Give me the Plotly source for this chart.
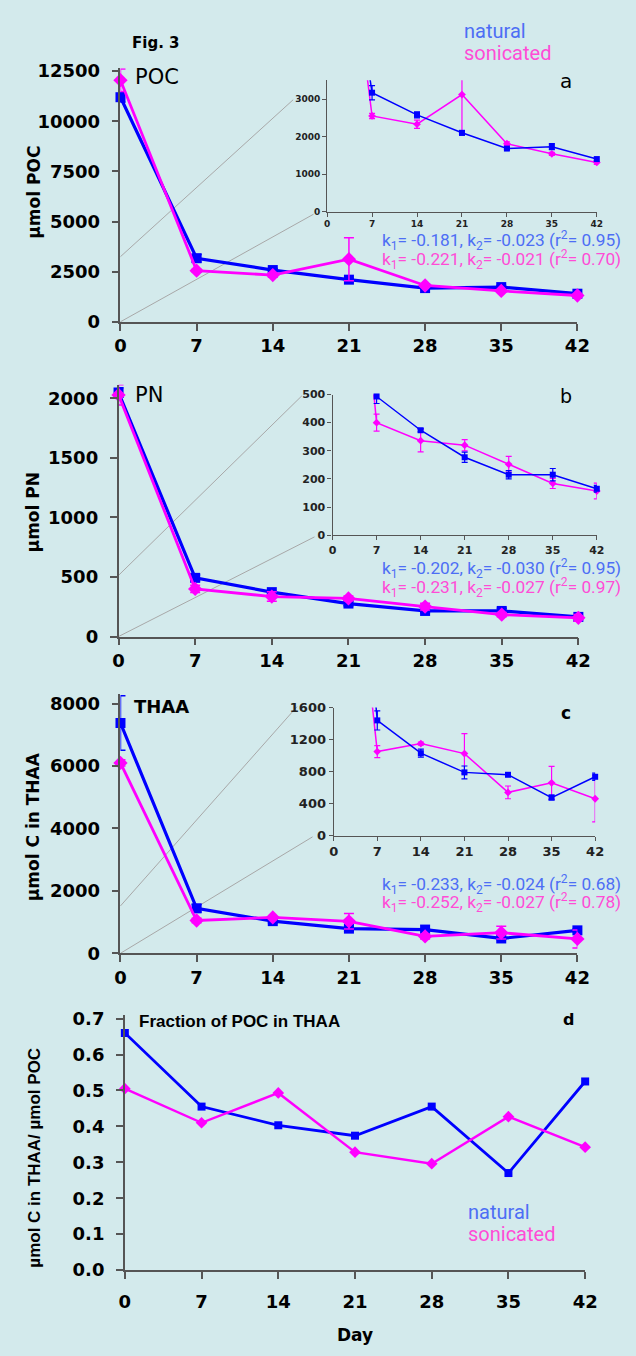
import plotly.graph_objects as go

# ---------------- data ----------------
days = [0, 7, 14, 21, 28, 35, 42]

poc_nat = [11200, 3170, 2580, 2100, 1680, 1730, 1400]
poc_nat_err = [250, 190, 80, 60, 30, 80, 40]
poc_son = [12050, 2550, 2330, 3120, 1810, 1540, 1310]
poc_son_err = [560, 70, 110, 1070, 50, 40, 50]

pn_nat = [2050, 493, 373, 277, 215, 215, 165]
pn_nat_err = [40, 25, 6, 18, 15, 22, 12]
pn_son = [2030, 400, 336, 320, 252, 184, 157]
pn_son_err = [85, 30, 40, 20, 28, 18, 28]

thaa_nat = [7380, 1440, 1030, 790, 760, 475, 735]
thaa_nat_err = [870, 120, 50, 80, 20, 30, 45]
thaa_son = [6100, 1050, 1150, 1025, 540, 660, 460]
thaa_son_err = [100, 75, 20, 250, 80, 205, 290]

frac_nat = [0.66, 0.455, 0.403, 0.374, 0.455, 0.27, 0.525]
frac_son = [0.505, 0.41, 0.493, 0.328, 0.296, 0.427, 0.342]

k_text = {
    "a": ["k<sub>1</sub>= -0.181, k<sub>2</sub>= -0.023 (r<sup>2</sup>= 0.95)",
          "k<sub>1</sub>= -0.221, k<sub>2</sub>= -0.021 (r<sup>2</sup>= 0.70)"],
    "b": ["k<sub>1</sub>= -0.202, k<sub>2</sub>= -0.030 (r<sup>2</sup>= 0.95)",
          "k<sub>1</sub>= -0.231, k<sub>2</sub>= -0.027 (r<sup>2</sup>= 0.97)"],
    "c": ["k<sub>1</sub>= -0.233, k<sub>2</sub>= -0.024 (r<sup>2</sup>= 0.68)",
          "k<sub>1</sub>= -0.252, k<sub>2</sub>= -0.027 (r<sup>2</sup>= 0.78)"],
}

# ---------------- style ----------------
W, H = 636, 1356
BG = "#d3eaec"
BLUE = "#0000ff"
PINK = "#ff00ff"
TXT_BLUE = "#4d6ef5"
TXT_PINK = "#ff4cd6"
AXC = "#555555"
MAINFONT = "DejaVu Sans"


def px(x):
    return x / W


def py(y):
    return 1 - y / H


fig = go.Figure()


def add_main(ax, nat, nat_err, son, son_err, lw=3.2, msz=(10, 11)):
    xa, ya = ("x", "y") if ax == 1 else (f"x{ax}", f"y{ax}")
    for vals, err, col, sym, size, w in [
        (nat, nat_err, BLUE, "square", msz[0], lw),
        (son, son_err, PINK, "diamond", msz[1], lw - 0.4),
    ]:
        fig.add_trace(go.Scatter(
            x=days, y=vals, xaxis=xa, yaxis=ya, mode="lines+markers",
            line=dict(color=col, width=w),
            marker=dict(color=col, symbol=sym, size=size),
            error_y=None if err is None else dict(type="data", array=err, color=col, thickness=1.5, width=5),
            cliponaxis=False, showlegend=False, hoverinfo="skip"))


def add_inset(ax, nat, nat_err, son, son_err):
    xa, ya = f"x{ax}", f"y{ax}"
    for vals, err, col, sym, size in [
        (son, son_err, PINK, "diamond", 6),
        (nat, nat_err, BLUE, "square", 6),
    ]:
        fig.add_trace(go.Scatter(
            x=days, y=vals, xaxis=xa, yaxis=ya, mode="lines",
            line=dict(color=col, width=1.5),
            error_y=dict(type="data", array=err, color=col, thickness=1.2, width=3),
            showlegend=False, hoverinfo="skip"))
        fig.add_trace(go.Scatter(
            x=days[1:], y=vals[1:], xaxis=xa, yaxis=ya, mode="markers",
            marker=dict(color=col, symbol=sym, size=size),
            cliponaxis=False, showlegend=False, hoverinfo="skip"))


add_main(1, poc_nat, poc_nat_err, poc_son, poc_son_err)
add_inset(2, poc_nat, poc_nat_err, poc_son, poc_son_err)
add_main(3, pn_nat, pn_nat_err, pn_son, pn_son_err)
add_inset(4, pn_nat, pn_nat_err, pn_son, pn_son_err)
add_main(5, thaa_nat, thaa_nat_err, thaa_son, thaa_son_err)
add_inset(6, thaa_nat, thaa_nat_err, thaa_son, thaa_son_err)
add_main(7, frac_nat, None, frac_son, None, lw=2.8, msz=(8, 9))


def main_axes(x0, x1, y0, ytop, rng, yticks, font_size=18, fam=MAINFONT, tickfmt="d"):
    common = dict(showline=True, linecolor=AXC, linewidth=1.5, ticks="outside", ticklen=7,
                  tickcolor=AXC, tickwidth=1.5, showgrid=False, zeroline=False,
                  tickfont=dict(family=fam, size=font_size, color="black", weight="bold"))
    xa = dict(domain=[px(x0), px(x1)], range=[0, 42], tickvals=days, tickformat="d", **common)
    ya = dict(domain=[py(y0), py(ytop)], range=rng, tickvals=yticks, tickformat=tickfmt,
              ticklabelstandoff=8, **common)
    return xa, ya


def inset_axes(x0, x1, y0, ytop, rng, yticks, fs):
    common = dict(showline=True, linecolor=AXC, linewidth=1.2, ticks="outside", ticklen=4,
                  tickcolor=AXC, tickwidth=1.2, showgrid=False, zeroline=False,
                  tickfont=dict(family=MAINFONT, size=fs, color="#222222", weight="bold"))
    xa = dict(domain=[px(x0), px(x1)], range=[0, 42], tickvals=days, tickformat="d", **common)
    ya = dict(domain=[py(y0), py(ytop)], range=rng, tickvals=yticks, tickformat="d", **common)
    return xa, ya


layout_axes = {}
# panel a main: 0 at y=318, 12500 at y=64
sa = (318 - 64) / 12500
xa, ya = main_axes(118, 589, 318, 318 - 12650 * sa, [0, 12650], [0, 2500, 5000, 7500, 10000, 12500])
layout_axes["xaxis"], layout_axes["yaxis"] = dict(xa, anchor="y"), dict(ya, anchor="x")
# inset a
si = (206.3 - 92.3) / 3000
xa, ya = inset_axes(331, 609, 206.3, 206.3 - 3500 * si, [0, 3500], [0, 1000, 2000, 3000], 9)
layout_axes["xaxis2"], layout_axes["yaxis2"] = dict(xa, anchor="y2"), dict(ya, anchor="x2")
# panel b main: 0 at 637, 2000 at 395.7
sb = (637 - 395.7) / 2000
xa, ya = main_axes(116, 590, 637, 637 - 2115 * sb, [0, 2115], [0, 500, 1000, 1500, 2000])
layout_axes["xaxis3"], layout_axes["yaxis3"] = dict(xa, anchor="y3"), dict(ya, anchor="x3")
# inset b
xa, ya = inset_axes(336.6, 609, 534.3, 391.7, [0, 500], [0, 100, 200, 300, 400, 500], 11)
layout_axes["xaxis4"], layout_axes["yaxis4"] = dict(xa, anchor="y4"), dict(ya, anchor="x4")
# panel c main: 0 at 958, 8000 at 705
sc = (958 - 705) / 8000
xa, ya = main_axes(118, 589, 958, 958 - 8300 * sc, [0, 8300], [0, 2000, 4000, 6000, 8000])
layout_axes["xaxis5"], layout_axes["yaxis5"] = dict(xa, anchor="y5"), dict(ya, anchor="x5")
# inset c
xa, ya = inset_axes(337.8, 607.3, 838.7, 709, [0, 1600], [0, 400, 800, 1200, 1600], 13)
layout_axes["xaxis6"], layout_axes["yaxis6"] = dict(xa, anchor="y6"), dict(ya, anchor="x6")
# panel d: 0.0 at 1279, 0.1 = 36.4 px
d0 = 1279
sd = 364.0
xa, ya = main_axes(122.5, 597, d0, d0 - 0.71 * sd, [0, 0.71],
                   [0, 0.1, 0.2, 0.3, 0.4, 0.5, 0.6, 0.7], font_size=18, tickfmt=".1f")
xa["ticklabelstandoff"] = 8
layout_axes["xaxis7"], layout_axes["yaxis7"] = dict(xa, anchor="y7"), dict(ya, anchor="x7")
top_d = d0 - 0.7 * sd

# ---------------- annotations ----------------
ann = []


def text(x, y, s, size, color="black", fam=MAINFONT, bold=False, xanchor="left", angle=0):
    ann.append(dict(x=px(x), y=py(y), xref="paper", yref="paper", text=s, showarrow=False,
                    xanchor=xanchor, yanchor="middle", textangle=angle,
                    font=dict(family=fam, size=size, color=color, weight="bold" if bold else "normal")))


text(128, 35, "Fig. 3", 15, bold=True)
text(470, 23, "natural", 20, TXT_BLUE, fam="Roboto")
text(470, 45.5, "sonicated", 20, TXT_PINK, fam="Roboto")
text(131, 70, "POC", 21)
text(569, 74, "a", 20)
text(131, 392, "PN", 21)
text(569, 393, "b", 19)
text(130, 708, "THAA", 18, bold=True)
text(570, 714, "c", 17, bold=True)
text(135, top_d + 3, "Fraction of POC in THAA", 17, fam="Liberation Sans", bold=True)
text(572, top_d + 1, "d", 16, bold=True)
text(474, 1220.5, "natural", 20, TXT_BLUE, fam="Roboto")
text(474, 1242, "sonicated", 20, TXT_PINK, fam="Roboto")
text(360, 1345, "Day", 17, bold=True, xanchor="center")

text(28, 187, "µmol POC", 17, bold=True, xanchor="center", angle=-90)
text(28, 511, "µmol PN", 17, bold=True, xanchor="center", angle=-90)
text(28, 830, "µmol C in THAA", 17, bold=True, xanchor="center", angle=-90)
text(29, 1165, "µmol C in THAA/ µmol POC", 17, fam="Liberation Sans", bold=True, xanchor="center", angle=-90)

for key, (y1, y2) in {"a": (236, 255), "b": (568, 587), "c": (888, 907)}.items():
    text(636, y1, k_text[key][0], 17.3, TXT_BLUE, fam="Roboto", xanchor="right")
    text(636, y2, k_text[key][1], 17.3, TXT_PINK, fam="Roboto", xanchor="right")

# zoom connector lines (decorative)
shapes = []
for (x0, y0, x1, y1) in [(118, 252, 296, 93), (118, 318, 317, 209),
                         (116, 575, 305, 393), (116, 637, 318, 536),
                         (118, 910, 300, 708), (118, 958, 316, 840)]:
    shapes.append(dict(type="line", xref="paper", yref="paper", x0=px(x0), y0=py(y0),
                       x1=px(x1), y1=py(y1), line=dict(color="#a8a8a8", width=1), layer="below"))

fig.update_layout(width=W, height=H, margin=dict(l=0, r=0, t=0, b=0),
                  paper_bgcolor=BG, plot_bgcolor=BG, showlegend=False,
                  annotations=ann, shapes=shapes, **layout_axes)

fig.write_html("out.html", config={"displayModeBar": False},
               post_script="document.body.style.margin='0';document.body.style.padding='0';"
                           "document.body.style.background='#d3eaec';")
